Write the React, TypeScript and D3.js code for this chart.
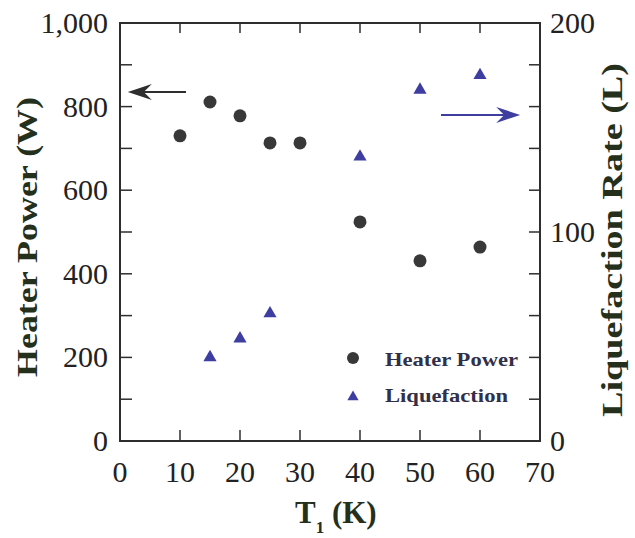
import React from "react";
import * as d3 from "d3";

const temps = [10, 15, 20, 25, 30, 40, 50, 60];
const heaterPower = [730, 811, 778, 713, 713, 524, 431, 464];
const liqTemps = [15, 20, 25, 40, 50, 60];
const liquefaction = [40, 49, 61, 136, 168, 175];

const xTickLabels = [0, 10, 20, 30, 40, 50, 60, 70];
const leftTickLabels = [0, 200, 400, 600, 800, 1000];
const rightTickLabels = [0, 100, 200];

const W = 635, H = 538;
const left = 120, right = 540, top = 23, bottom = 441;

export default function App() {
  const x = d3.scaleLinear().domain([0, 70]).range([left, right]);
  const yL = d3.scaleLinear().domain([0, 1000]).range([bottom, top]);
  const yR = d3.scaleLinear().domain([0, 200]).range([bottom, top]);
  const fmt = d3.format(",");
  const serif = "'Liberation Serif', 'Times New Roman', serif";
  const axisColor = "#2e2e2e";
  const titleColor = "#25301c";
  const dotColor = "#383838";
  const triColor = "#3e3ea0";
  const tri = d3.symbol().type(d3.symbolTriangle).size(75)() as string;
  const triLegend = d3.symbol().type(d3.symbolTriangle).size(55)() as string;

  const minorX = d3.range(10, 70, 10);
  const minorL = d3.range(100, 1000, 100);
  const minorR = d3.range(20, 200, 20);

  // annotation arrows in data units
  const la = { y: yL(835), x0: x(1.3), x1: x(11) };
  const ra = { y: yR(156), x0: x(53.5), x1: x(66.7) };

  return (
    <svg width={W} height={H} style={{ position: "absolute", left: 0, top: 0, background: "#fff" }}>
      <rect x={0} y={0} width={W} height={H} fill="#fff" />
      {/* ticks */}
      {minorX.map((t) => (
        <g key={"xt" + t} stroke={axisColor} strokeWidth={1.5}>
          <line x1={x(t)} x2={x(t)} y1={bottom} y2={bottom - 11} />
          <line x1={x(t)} x2={x(t)} y1={top} y2={top + 10} />
        </g>
      ))}
      {minorL.map((t) => (
        <line key={"lt" + t} x1={left} x2={left + 12} y1={yL(t)} y2={yL(t)} stroke={axisColor} strokeWidth={1.5} />
      ))}
      {minorR.map((t) => (
        <line key={"rt" + t} x1={right} x2={right - 11} y1={yR(t)} y2={yR(t)} stroke={axisColor} strokeWidth={1.5} />
      ))}
      {/* frame */}
      <rect x={left} y={top} width={right - left} height={bottom - top} fill="none" stroke={axisColor} strokeWidth={2} />

      {/* tick labels */}
      {xTickLabels.map((t) => (
        <text key={"xl" + t} x={x(t)} y={482} textAnchor="middle" fontFamily={serif} fontSize={30} fill="#222">
          {t}
        </text>
      ))}
      {leftTickLabels.map((t) => (
        <text key={"ll" + t} x={108} y={yL(t) + 10} textAnchor="end" fontFamily={serif} fontSize={30} fill="#222">
          {fmt(t)}
        </text>
      ))}
      {rightTickLabels.map((t) => (
        <text key={"rl" + t} x={550} y={yR(t) + 10} textAnchor="start" fontFamily={serif} fontSize={30} fill="#222">
          {t}
        </text>
      ))}

      {/* axis titles */}
      <text
        transform={`translate(37,237) rotate(-90)`}
        textAnchor="middle"
        fontFamily={serif}
        fontWeight="bold"
        fontSize={30}
        fill={titleColor}
        textLength={280}
        lengthAdjust="spacingAndGlyphs"
      >
        Heater Power (W)
      </text>
      <text
        transform={`translate(622,240) rotate(-90)`}
        textAnchor="middle"
        fontFamily={serif}
        fontWeight="bold"
        fontSize={30}
        fill={titleColor}
        textLength={354}
        lengthAdjust="spacingAndGlyphs"
      >
        Liquefaction Rate (L)
      </text>
      <text x={295} y={523} fontFamily={serif} fontWeight="bold" fontSize={31} fill={titleColor}>
        T
        <tspan fontSize={17} dy={10}>1</tspan>
        <tspan dy={-10}> (K)</tspan>
      </text>

      {/* data */}
      {temps.map((t, i) => (
        <circle key={"c" + t} cx={x(t)} cy={yL(heaterPower[i])} r={6.5} fill={dotColor} />
      ))}
      {liqTemps.map((t, i) => (
        <path key={"t" + t} d={tri} transform={`translate(${x(t)},${yR(liquefaction[i])})`} fill={triColor} />
      ))}

      {/* arrows */}
      <line x1={la.x0 + 12} x2={la.x1} y1={la.y} y2={la.y} stroke={axisColor} strokeWidth={2} />
      <path
        d={`M${la.x0},${la.y} L${la.x0 + 24},${la.y - 8} L${la.x0 + 16},${la.y} L${la.x0 + 24},${la.y + 8} Z`}
        fill={axisColor}
      />
      <line x1={ra.x0} x2={ra.x1 - 12} y1={ra.y} y2={ra.y} stroke={triColor} strokeWidth={2} />
      <path
        d={`M${ra.x1},${ra.y} L${ra.x1 - 24},${ra.y - 8} L${ra.x1 - 16},${ra.y} L${ra.x1 - 24},${ra.y + 8} Z`}
        fill={triColor}
      />

      {/* legend */}
      <circle cx={353} cy={358} r={6} fill={dotColor} />
      <text x={385} y={366} fontFamily={serif} fontWeight="bold" fontSize={19} fill="#30304a" textLength={133} lengthAdjust="spacingAndGlyphs">
        Heater Power
      </text>
      <path d={triLegend} transform="translate(353,397)" fill={triColor} />
      <text x={385} y={402} fontFamily={serif} fontWeight="bold" fontSize={19} fill="#30304a" textLength={123} lengthAdjust="spacingAndGlyphs">
        Liquefaction
      </text>
    </svg>
  );
}
